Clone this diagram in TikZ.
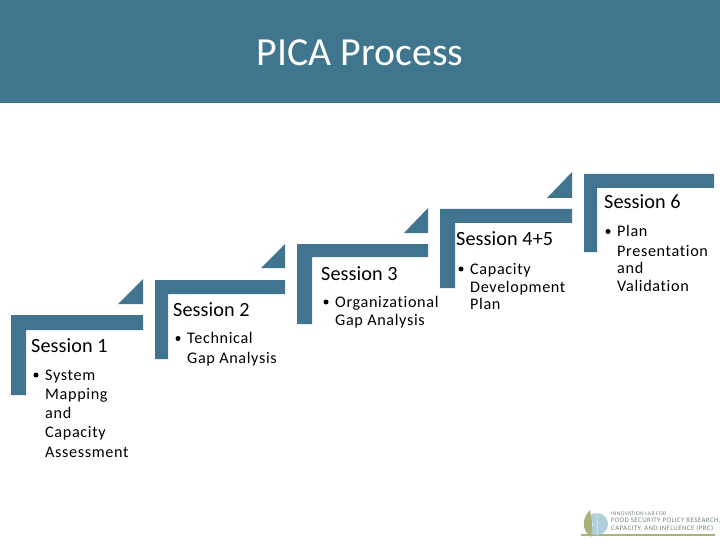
\documentclass[tikz,border=0pt]{standalone}
\usepackage{fontspec}
\setmainfont{Carlito}
\newfontfamily\headf[LetterSpace=0.5,Ligatures=NoCommon]{Carlito}
\newfontfamily\bodyf[LetterSpace=4,Ligatures=NoCommon]{Carlito}
\newfontfamily\logof[LetterSpace=6,Ligatures=NoCommon]{Carlito}
\definecolor{teal1}{HTML}{3F768E}
\definecolor{stepblue}{HTML}{41748F}
\definecolor{logoolive}{HTML}{A9B27A}
\definecolor{logotext}{HTML}{6F8478}
\definecolor{logoblue}{HTML}{8FB9CC}
\tikzset{
  bar/.style={fill=stepblue,draw=none},
  head/.style={anchor=base west,inner sep=0pt,font=\headf\fontsize{20.2}{20}\selectfont,text=black},
  item/.style={anchor=base west,inner sep=0pt,font=\bodyf\fontsize{16.2}{16.2}\selectfont,text=black},
  dot/.style={circle,fill=black,inner sep=0pt,minimum size=5pt},
  logot/.style={anchor=base west,inner sep=0pt,font=\logof\fontsize{6.9}{6.9}\selectfont,text=logotext}
}
\newcommand{\stepshape}[6]{%
  \fill[bar] (#1,#2) -- (#3,#2) -- (#3,#4) -- (#5,#4) -- (#5,#6) -- (#1,#6) -- cycle;
}
\begin{document}
\begin{tikzpicture}[x=1pt,y=-1pt]
\useasboundingbox (0,0) rectangle (720,540);
\fill[white] (0,0) rectangle (720,540);
\fill[teal1] (0,0) rectangle (720,103);
\node[anchor=base,inner sep=0pt,text=white,font=\fontsize{39.8}{40}\selectfont] (title) at (360,65.5) {PICA Process};

\stepshape{11}{315}{143}{330}{26}{395}
\stepshape{155}{280}{285}{294}{168}{359}
\stepshape{297}{244}{428}{257}{312}{324}
\stepshape{440}{209}{572}{223}{455}{288}
\stepshape{584}{174}{714}{188}{597}{252}
\fill[bar] (118,304) -- (143,279) -- (143,304) -- cycle;
\fill[bar] (261,268) -- (285,244) -- (285,268) -- cycle;
\fill[bar] (404,233) -- (428,208) -- (428,233) -- cycle;
\fill[bar] (547,198) -- (572,172) -- (572,198) -- cycle;

\node[head] (s1) at (31,352.5) {Session 1};
\node[dot] (d1) at (36,375) {};
\node[item] (s1a) at (45,380) {System};
\node[item] (s1b) at (45,399.5) {Mapping};
\node[item] (s1c) at (45,418) {and};
\node[item] (s1d) at (45,437.5) {Capacity};
\node[item] (s1e) at (45,457) {Assessment};

\node[head] (s2) at (173,316.5) {Session 2};
\node[dot] (d2) at (178,338.5) {};
\node[item] (s2a) at (187,343.5) {Technical};
\node[item] (s2b) at (187,363) {Gap Analysis};

\node[head] (s3) at (321,280.5) {Session 3};
\node[dot] (d3) at (326,302) {};
\node[item] (s3a) at (335,307) {Organizational};
\node[item] (s3b) at (335,325.5) {Gap Analysis};

\node[head] (s4) at (456,245.5) {Session 4+5};
\node[dot] (d4) at (461,269) {};
\node[item] (s4a) at (470,274) {Capacity};
\node[item] (s4b) at (470,292) {Development};
\node[item] (s4c) at (470,309.5) {Plan};

\node[head] (s6) at (604,208.5) {Session 6};
\node[dot] (d6) at (608,231.5) {};
\node[item] (s6a) at (617,236.5) {Plan};
\node[item] (s6b) at (617,256) {Presentation};
\node[item] (s6c) at (617,273) {and};
\node[item] (s6d) at (617,291.5) {Validation};

% logo
\fill[logoolive] (581,533.5) rectangle (715,535.5);
\fill[logoblue!70] (597,524) circle (11);
\draw[white,line width=0.5pt] (597,513) -- (597,535) (588,518) .. controls (594,522) and (594,528) .. (588,532);
\fill[logoolive] (591,537) .. controls (581,530) and (582,518) .. (590,510) .. controls (592,520) and (593,530) .. (591,537) -- cycle;
\node[logot,font=\logof\fontsize{5.6}{5.6}\selectfont] (l1) at (611,515) {INNOVATION LAB FOR};
\node[logot] (l2) at (611,522.5) {FOOD SECURITY POLICY RESEARCH,};
\node[logot] (l3) at (611,530.5) {CAPACITY, AND INFLUENCE (PRC)};
\end{tikzpicture}
\end{document}
